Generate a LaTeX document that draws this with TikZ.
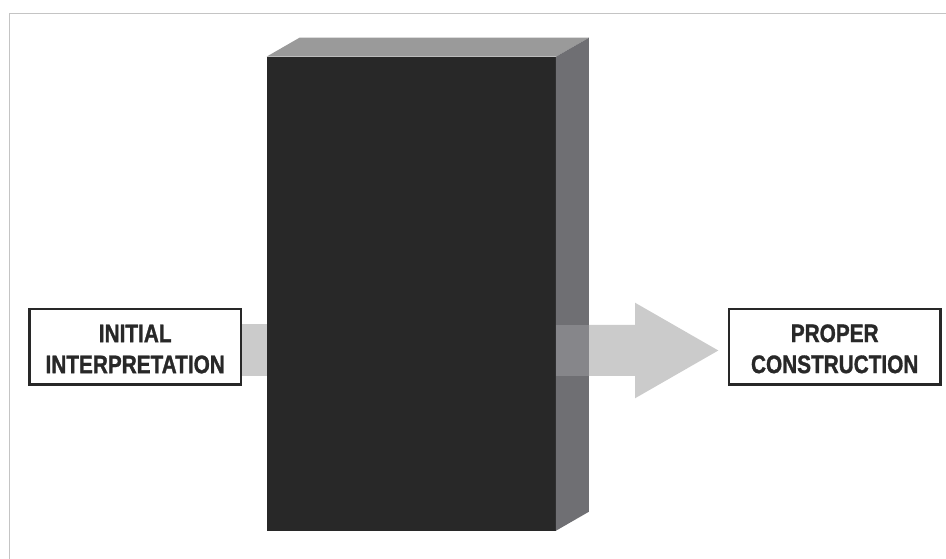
\documentclass[tikz,border=0pt]{standalone}
\usepackage{fontspec}
\newfontfamily\boxfont[FakeStretch=0.82, BoldFeatures={FakeBold=1.2}]{Liberation Sans}
\definecolor{frontgray}{HTML}{282828}
\definecolor{topgray}{HTML}{9A9A9A}
\definecolor{sidegray}{HTML}{6F6F73}
\definecolor{shaftgray}{HTML}{CBCBCB}
\definecolor{overgray}{HTML}{86868A}
\definecolor{framegray}{HTML}{C4C4C4}
\definecolor{inkgray}{HTML}{282828}
\tikzset{
  label box/.style={draw=inkgray, line width=1.9pt, fill=white, text=inkgray,
    align=center, inner sep=0pt, minimum width=158.6pt, minimum height=56.6pt,
    font=\boxfont\bfseries\fontsize{19}{23.25}\selectfont},
  front face/.style={fill=frontgray, inner sep=0pt, outer sep=0pt,
    minimum width=217.1pt, minimum height=355.5pt},
}
\begin{document}
\begin{tikzpicture}[x=0.75pt, y=-0.75pt]
    \useasboundingbox (0,0) rectangle (946,559);
    \draw [framegray, line width=1.1pt] (9.5,559) -- (9.5,13.5) -- (946,13.5);

    \node[front face] (block) at (411.25,293.7) {};
    \node[label box] (init)   at (135.2,346.8) {\rule{0pt}{16.5pt}INITIAL\\INTERPRETATION};
    \node[label box] (proper) at (834.7,346.7) {\rule{0pt}{16.5pt}PROPER\\CONSTRUCTION};

    \fill [topgray]  (block.north west) -- ++(33,-19) -- ++(289.5,0) -- (block.north east) -- cycle;
    \fill [sidegray] (block.north east) -- ++(33,-19) -- ++(0,474) -- (block.south east) -- cycle;

    \coordinate (lin)  at (block.west |- init.east);
    \coordinate (tail) at (589,350.5);
    \coordinate (tip)  at (718.3,350.5);

    \fill [shaftgray] ([yshift=16.9pt]init.east) rectangle ([yshift=-21.9pt]lin);
    \fill [overgray]  ([yshift=19.1pt]tail) rectangle ([xshift=-24.75pt, yshift=-19.1pt]tail);
    \fill [shaftgray] (tail) ++(0,-25.5) -- ++(46,0) -- ++(0,-22.3) -- (tip)
        -- ++(-83.3,47.8) -- ++(0,-22.3) -- ++(-46,0) -- cycle;
\end{tikzpicture}
\end{document}
